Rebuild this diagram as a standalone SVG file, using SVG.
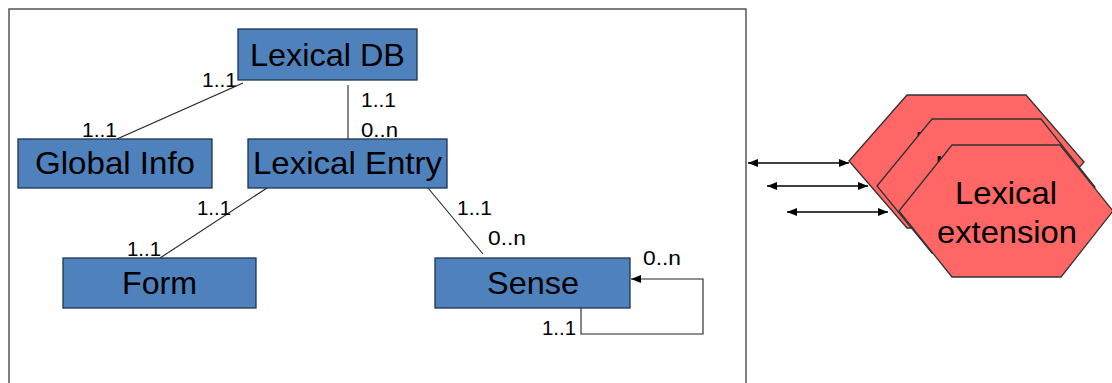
<svg xmlns="http://www.w3.org/2000/svg" width="1112" height="383" viewBox="0 0 1112 383">
  <defs>
    <marker id="ah" viewBox="0 0 10 8" refX="10" refY="4" markerWidth="10" markerHeight="8" markerUnits="userSpaceOnUse" orient="auto-start-reverse">
      <path d="M0,0 L10,4 L0,8 Z" fill="#000"/>
    </marker>
    <style>
      .box { fill: #4F81BD; stroke: #1e3350; stroke-width: 1.3; }
      .hex { fill: #FF6666; stroke: #333; stroke-width: 1.3; }
      .big { font-family: "Liberation Sans", Arial, sans-serif; font-size: 32px; fill: #000; }
      .lbl { font-family: "Liberation Sans", Arial, sans-serif; font-size: 21px; fill: #000; }
      .ln { fill: none; stroke: #222; stroke-width: 1.1; }
      .arr { fill: none; stroke: #000; stroke-width: 1.3; }
    </style>
  </defs>
  <rect width="1112" height="383" fill="#fff"/>
  <rect x="9" y="9" width="737" height="390" fill="none" stroke="#555" stroke-width="1.5"/>

  <g id="connectors">
    <line class="ln" x1="243" y1="83" x2="117" y2="139"/>
    <line class="ln" x1="348" y1="85" x2="348" y2="139" stroke="#555"/>
    <line class="ln" x1="267" y1="188" x2="160" y2="258"/>
    <line class="ln" x1="428" y1="188" x2="483" y2="254"/>
    <polyline class="ln" points="581,304 581,334 703,334 703,279 631,279" marker-end="url(#ah)"/>
    <line class="arr" x1="748" y1="163" x2="849" y2="163" marker-start="url(#ah)" marker-end="url(#ah)"/>
    <line class="arr" x1="767" y1="186" x2="868" y2="186" marker-start="url(#ah)" marker-end="url(#ah)"/>
    <line class="arr" x1="787" y1="212" x2="888" y2="212" marker-start="url(#ah)" marker-end="url(#ah)"/>
    <text class="lbl" x="202" y="87" textLength="35" lengthAdjust="spacingAndGlyphs">1..1</text>
    <text class="lbl" x="82" y="137" textLength="35" lengthAdjust="spacingAndGlyphs">1..1</text>
    <text class="lbl" x="361" y="107" textLength="35" lengthAdjust="spacingAndGlyphs">1..1</text>
    <text class="lbl" x="361" y="137" textLength="37" lengthAdjust="spacingAndGlyphs">0..n</text>
    <text class="lbl" x="197" y="215" textLength="34" lengthAdjust="spacingAndGlyphs">1..1</text>
    <text class="lbl" x="127" y="256" textLength="34" lengthAdjust="spacingAndGlyphs">1..1</text>
    <text class="lbl" x="457" y="215" textLength="35" lengthAdjust="spacingAndGlyphs">1..1</text>
    <text class="lbl" x="488" y="245" textLength="38" lengthAdjust="spacingAndGlyphs">0..n</text>
    <text class="lbl" x="643" y="265" textLength="38" lengthAdjust="spacingAndGlyphs">0..n</text>
    <text class="lbl" x="542" y="335" textLength="34" lengthAdjust="spacingAndGlyphs">1..1</text>
  </g>

  <g id="lexical-db">
    <rect class="box" x="238" y="29" width="179" height="51"/>
    <text class="big" x="250" y="66" textLength="155" lengthAdjust="spacingAndGlyphs">Lexical DB</text>
  </g>
  <g id="global-info">
    <rect class="box" x="18" y="139" width="194" height="49"/>
    <text class="big" x="35" y="174" textLength="160" lengthAdjust="spacingAndGlyphs">Global Info</text>
  </g>
  <g id="lexical-entry">
    <rect class="box" x="248" y="139" width="199" height="49"/>
    <text class="big" x="253" y="174" textLength="189" lengthAdjust="spacingAndGlyphs">Lexical Entry</text>
  </g>
  <g id="form">
    <rect class="box" x="63" y="258" width="193" height="50"/>
    <text class="big" x="122" y="294" textLength="75" lengthAdjust="spacingAndGlyphs">Form</text>
  </g>
  <g id="sense">
    <rect class="box" x="435" y="258" width="195" height="50"/>
    <text class="big" x="487" y="294" textLength="92" lengthAdjust="spacingAndGlyphs">Sense</text>
  </g>

  <g id="lexical-extension-3">
    <polygon class="hex" points="849,161 907,95 1026,95 1084,162 1026,228 907,228"/>
    <text class="big" x="915" y="154">L</text>
  </g>
  <g id="lexical-extension-2">
    <polygon class="hex" points="877,186 932,119 1041,119 1095,187 1041,253 932,253"/>
    <text class="big" x="935" y="178">L</text>
  </g>
  <g id="lexical-extension-1">
    <polygon class="hex" points="899,211 952,145 1060,145 1113,211 1061,277 952,277"/>
    <text class="big" x="955" y="204" textLength="102" lengthAdjust="spacingAndGlyphs">Lexical</text>
    <text class="big" x="937" y="243" textLength="140" lengthAdjust="spacingAndGlyphs">extension</text>
  </g>
</svg>
